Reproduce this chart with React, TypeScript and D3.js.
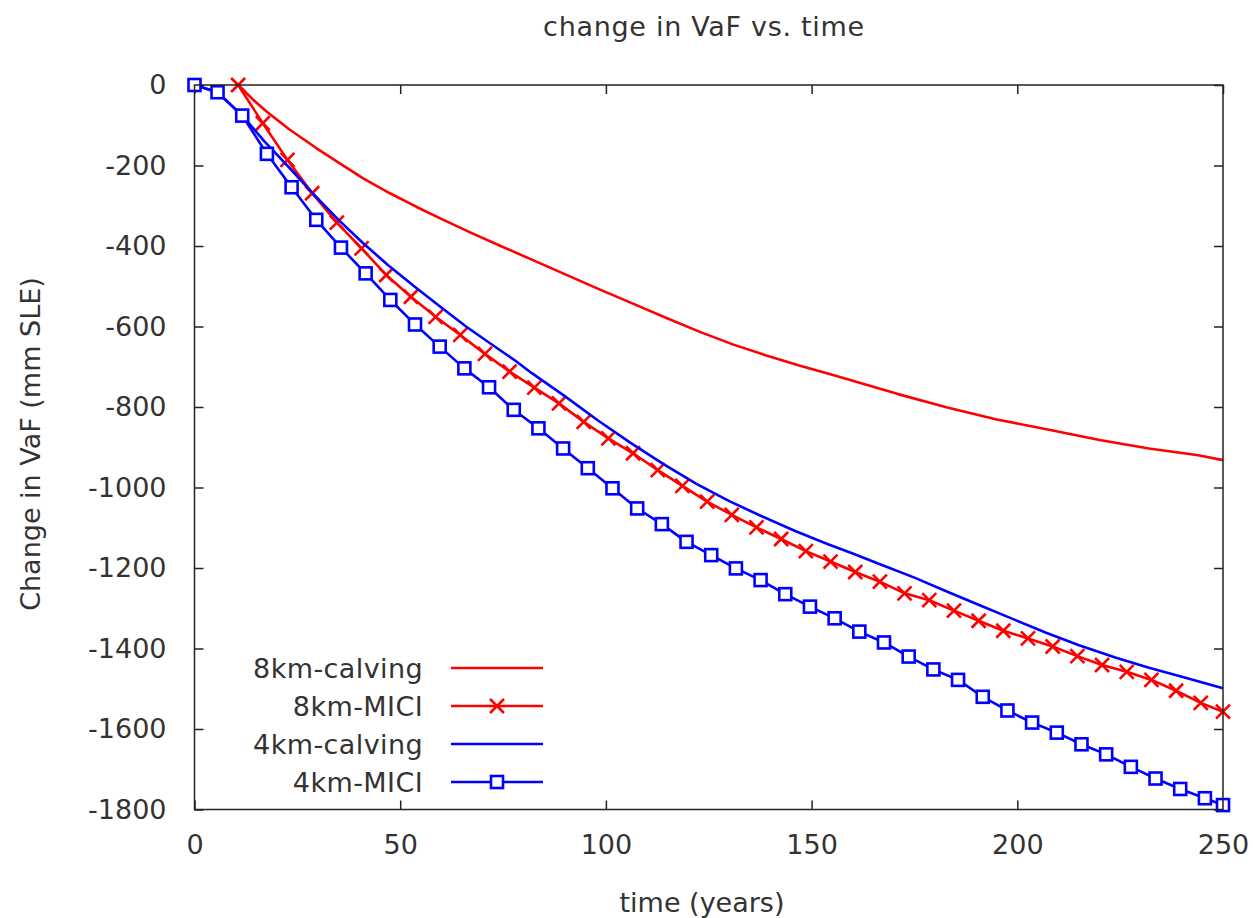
import * as d3 from "d3";
import { useEffect, useRef } from "react";

// 8km-calving (no markers)
const calv8Years = [10.6, 14, 17.5, 23, 29.5, 35.5, 41, 47.5, 54, 60.5, 67, 74, 82, 90, 98, 107, 115, 123, 131, 139, 147, 155, 160, 171, 183, 195, 208, 220, 232, 244, 250];
const calv8Vals = [0, -34, -66, -110, -156, -196, -232, -269, -303, -335, -366, -398, -434, -470, -506, -545, -580, -614, -645, -672, -697, -720, -735, -768, -801, -831, -857, -882, -903, -920, -932];

// 8km-MICI (x markers)
const mici8Years = [10.6, 16.6, 22.6, 28.6, 34.6, 40.6, 46.6, 52.6, 58.6, 64.6, 70.6, 76.6, 82.6, 88.6, 94.6, 100.6, 106.6, 112.6, 118.6, 124.6, 130.6, 136.6, 142.6, 148.6, 154.6, 160.6, 166.6, 172.6, 178.6, 184.6, 190.6, 196.6, 202.6, 208.6, 214.6, 220.6, 226.6, 232.6, 238.6, 244.6, 250];
const mici8Vals = [0, -95, -186, -269, -342, -406, -472, -526, -576, -621, -668, -712, -752, -791, -837, -878, -915, -957, -996, -1035, -1068, -1099, -1128, -1158, -1184, -1210, -1234, -1263, -1280, -1306, -1331, -1356, -1375, -1395, -1419, -1441, -1458, -1478, -1505, -1535, -1557];

// 4km-calving (no markers)
const calv4Years = [0, 5.6, 11.6, 17, 23, 29, 35, 41, 47, 54, 60, 66, 72, 78, 82, 90, 98, 106, 114, 122, 130, 138, 146, 154, 160, 166, 175, 183, 191, 199, 207, 215, 224, 232, 240, 250];
const calv4Vals = [0, -18, -76, -140, -205, -272, -335, -393, -447, -505, -553, -600, -643, -685, -716, -773, -833, -889, -942, -991, -1034, -1072, -1108, -1141, -1164, -1188, -1224, -1259, -1293, -1327, -1361, -1392, -1423, -1448, -1470, -1499];

// 4km-MICI (square markers)
const mici4Years = [0, 5.6, 11.6, 17.6, 23.6, 29.6, 35.6, 41.6, 47.6, 53.6, 59.6, 65.6, 71.6, 77.6, 83.6, 89.6, 95.6, 101.6, 107.6, 113.6, 119.6, 125.6, 131.6, 137.6, 143.6, 149.6, 155.6, 161.6, 167.6, 173.6, 179.6, 185.6, 191.6, 197.6, 203.6, 209.6, 215.6, 221.6, 227.6, 233.6, 239.6, 245.6, 250];
const mici4Vals = [0, -18, -76, -171, -254, -335, -404, -468, -534, -595, -650, -704, -751, -807, -853, -903, -952, -1002, -1052, -1091, -1135, -1168, -1201, -1230, -1265, -1296, -1325, -1358, -1385, -1420, -1452, -1478, -1520, -1554, -1584, -1609, -1638, -1663, -1694, -1723, -1749, -1772, -1789];

const xTicks = [0, 50, 100, 150, 200, 250];
const yTicks = [0, -200, -400, -600, -800, -1000, -1200, -1400, -1600, -1800];

const seriesNames = ["8km-calving", "8km-MICI", "4km-calving", "4km-MICI"];

export default function App() {
    const ref = useRef(null);

    useEffect(() => {
        const svg = d3.select(ref.current);
        svg.selectAll("*").remove();

        const width = 1253,
            height = 918;
        const left = 194.5,
            right = 1223,
            top = 85,
            bottom = 809.5;
        const font = "'DejaVu Sans', sans-serif";
        const textColor = "#333";

        const x = d3.scaleLinear().domain([0, 250]).range([left, right]);
        const y = d3.scaleLinear().domain([-1800, 0]).range([bottom, top]);

        svg.append("rect").attr("width", width).attr("height", height).attr("fill", "white");

        // Axes with inward ticks on all sides
        const styleAxis = (g) => {
            g.select(".domain").remove();
            g.selectAll(".tick line").attr("stroke", "#222").attr("stroke-width", 1.5);
            g.selectAll(".tick text")
                .attr("fill", textColor)
                .attr("font-size", 27)
                .attr("font-family", font);
        };

        svg.append("g")
            .attr("transform", `translate(0, ${bottom})`)
            .call(d3.axisBottom(x).tickValues(xTicks).tickSize(-9).tickPadding(25).tickFormat((d) => String(d)))
            .call(styleAxis);
        svg.append("g")
            .attr("transform", `translate(0, ${top})`)
            .call(d3.axisTop(x).tickValues(xTicks).tickSize(-9).tickFormat(""))
            .call(styleAxis);
        svg.append("g")
            .attr("transform", `translate(${left}, 0)`)
            .call(d3.axisLeft(y).tickValues(yTicks).tickSize(-9).tickPadding(28).tickFormat((d) => String(d)))
            .call(styleAxis);
        svg.append("g")
            .attr("transform", `translate(${right}, 0)`)
            .call(d3.axisRight(y).tickValues(yTicks).tickSize(-9).tickFormat(""))
            .call(styleAxis);

        // Lines
        const line = d3
            .line()
            .x((d) => x(d[0]))
            .y((d) => y(d[1]));

        const zip = (xs, ys) => xs.map((v, i) => [v, ys[i]]);
        const series = [
            { data: zip(calv8Years, calv8Vals), color: "#ff0000", marker: null },
            { data: zip(mici8Years, mici8Vals), color: "#ff0000", marker: "x" },
            { data: zip(calv4Years, calv4Vals), color: "#0000ff", marker: null },
            { data: zip(mici4Years, mici4Vals), color: "#0000ff", marker: "square" },
        ];

        const drawMarker = (g, kind, cx, cy, color) => {
            if (kind === "x") {
                const s = 7;
                g.append("path")
                    .attr("d", `M${cx - s},${cy - s}L${cx + s},${cy + s}M${cx - s},${cy + s}L${cx + s},${cy - s}`)
                    .attr("stroke", color)
                    .attr("stroke-width", 2.6)
                    .attr("fill", "none");
            } else if (kind === "square") {
                const s = 6;
                g.append("rect")
                    .attr("x", cx - s)
                    .attr("y", cy - s)
                    .attr("width", 2 * s)
                    .attr("height", 2 * s)
                    .attr("stroke", color)
                    .attr("stroke-width", 2.6)
                    .attr("fill", "white");
            }
        };

        series.forEach((s) => {
            svg.append("path")
                .datum(s.data)
                .attr("d", line)
                .attr("fill", "none")
                .attr("stroke", s.color)
                .attr("stroke-width", 2.6)
                .attr("stroke-linejoin", "round");
            if (s.marker) {
                const g = svg.append("g");
                s.data.forEach((d) => drawMarker(g, s.marker, x(d[0]), y(d[1]), s.color));
            }
        });

        // Frame
        svg.append("rect")
            .attr("x", left)
            .attr("y", top)
            .attr("width", right - left)
            .attr("height", bottom - top)
            .attr("fill", "none")
            .attr("stroke", "#222")
            .attr("stroke-width", 1.5);

        // Legend
        const legendY = [668, 706, 744, 782];
        series.forEach((s, i) => {
            const ly = legendY[i];
            svg.append("text")
                .attr("x", 423)
                .attr("y", ly)
                .attr("dy", "0.36em")
                .attr("text-anchor", "end")
                .attr("font-size", 27)
                .attr("font-family", font)
                .attr("letter-spacing", 0.4)
                .attr("fill", textColor)
                .text(seriesNames[i]);
            svg.append("line")
                .attr("x1", 451)
                .attr("x2", 543)
                .attr("y1", ly)
                .attr("y2", ly)
                .attr("stroke", s.color)
                .attr("stroke-width", 2.6);
            if (s.marker) drawMarker(svg, s.marker, 497, ly, s.color);
        });

        // Titles
        svg.append("text")
            .attr("x", 704)
            .attr("y", 36)
            .attr("text-anchor", "middle")
            .attr("font-size", 27)
            .attr("font-family", font)
            .attr("letter-spacing", 0.7)
            .attr("fill", textColor)
            .text("change in VaF vs. time");

        svg.append("text")
            .attr("x", 702)
            .attr("y", 912)
            .attr("text-anchor", "middle")
            .attr("font-size", 27)
            .attr("font-family", font)
            .attr("fill", textColor)
            .text("time (years)");

        svg.append("text")
            .attr("transform", "translate(40, 444) rotate(-90)")
            .attr("text-anchor", "middle")
            .attr("font-size", 27)
            .attr("font-family", font)
            .attr("fill", textColor)
            .text("Change in VaF (mm SLE)");
    }, []);

    return (
        <div style={{ position: "absolute", left: 0, top: 0 }}>
            <svg ref={ref} width={1253} height={918}></svg>
        </div>
    );
}
